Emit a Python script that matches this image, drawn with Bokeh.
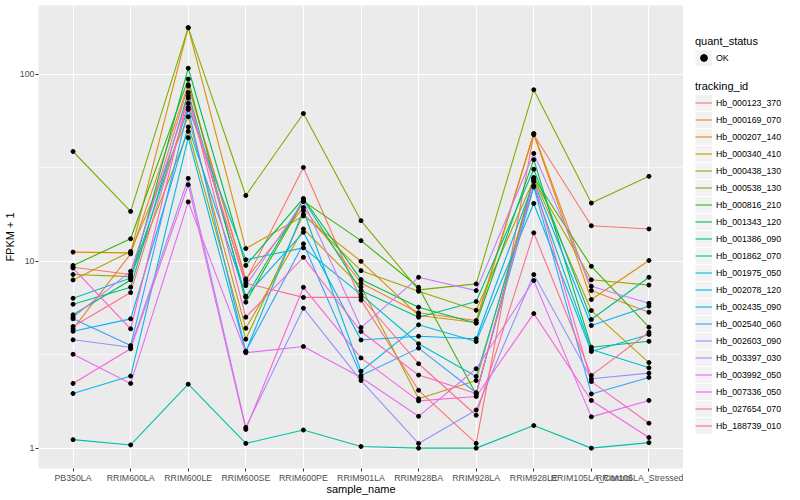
from bokeh.plotting import figure
from bokeh.models import (ColumnDataSource, Range1d, FixedTicker, Legend, LegendItem,
                          BasicTickFormatter, CustomJSTickFormatter)
from bokeh.layouts import row
from bokeh.embed import file_html
from bokeh.resources import INLINE

samples = ["PB350LA", "RRIM600LA", "RRIM600LE", "RRIM600SE", "RRIM600PE", "RRIM901LA",
           "RRIM928BA", "RRIM928LA", "RRIM928LE", "RRIM105LA_Control", "RRIM105LA_Stressed"]

tracking_ids = ["Hb_000123_370", "Hb_000169_070", "Hb_000207_140", "Hb_000340_410",
                "Hb_000438_130", "Hb_000538_130", "Hb_000816_210", "Hb_001343_120",
                "Hb_001386_090", "Hb_001862_070", "Hb_001975_050", "Hb_002078_120",
                "Hb_002435_090", "Hb_002540_060", "Hb_002603_090", "Hb_003397_030",
                "Hb_003992_050", "Hb_007336_050", "Hb_027654_070", "Hb_188739_010"]

# FPKM + 1 per sample (in sample order)
hb_000123_370 = [9.3, 8.5, 86.7, 7.88, 31.8, 6.20, 2.04, 1.06, 47.6, 15.5, 14.9]
hb_000169_070 = [4.35, 10.96, 88.0, 8.05, 19.4, 7.65, 5.30, 4.82, 48.3, 6.97, 5.34]
hb_000207_140 = [11.2, 11.1, 178, 11.7, 17.5, 10.0, 5.13, 4.70, 48.0, 6.24, 10.1]
hb_000340_410 = [7.95, 11.3, 59.4, 4.38, 14.9, 7.3, 1.84, 2.30, 27.8, 5.45, 2.87]
hb_000438_130 = [8.5, 8.28, 49.6, 3.83, 17.9, 8.91, 6.91, 5.47, 27.4, 7.96, 7.46]
hb_000538_130 = [38.7, 18.5, 178, 22.5, 61.8, 16.5, 7.03, 7.57, 82.8, 20.5, 28.5]
hb_000816_210 = [9.5, 13.2, 94.5, 6.04, 21.0, 12.9, 7.26, 1.94, 28.1, 9.40, 4.44]
hb_001343_120 = [5.17, 7.95, 108, 9.5, 21.7, 7.98, 5.68, 4.66, 35.0, 3.47, 3.73]
hb_001386_090 = [5.89, 7.27, 80.1, 6.42, 21.4, 6.97, 5.02, 6.09, 31.1, 4.88, 8.21]
hb_001862_070 = [1.11, 1.04, 2.2, 1.06, 1.25, 1.02, 1.00, 1.00, 1.32, 1.00, 1.07]
hb_001975_050 = [6.34, 8.15, 66.6, 10.2, 11.8, 6.63, 3.62, 2.42, 25.3, 3.37, 2.69]
hb_002078_120 = [1.96, 2.43, 45.9, 3.28, 18.7, 2.58, 4.57, 3.72, 20.4, 3.29, 4.06]
hb_002435_090 = [4.22, 4.92, 52.4, 6.5, 14.3, 3.79, 3.97, 3.85, 26.7, 4.53, 5.76]
hb_002540_060 = [4.92, 3.54, 65.0, 3.30, 12.4, 2.45, 3.43, 1.98, 25.0, 1.95, 2.39]
hb_002603_090 = [3.80, 3.47, 27.8, 1.29, 5.61, 2.30, 1.06, 1.60, 8.49, 2.35, 2.52]
hb_003397_030 = [5.02, 8.84, 74.8, 7.41, 20.9, 4.42, 8.21, 6.97, 37.8, 7.35, 5.96]
hb_003992_050 = [3.18, 2.22, 20.8, 3.24, 3.50, 2.39, 1.48, 2.66, 7.89, 1.47, 1.80]
hb_007336_050 = [2.22, 3.40, 25.7, 1.26, 7.26, 3.04, 1.79, 1.89, 5.25, 1.80, 1.14]
hb_027654_070 = [9.2, 4.35, 76.9, 5.02, 10.5, 4.21, 2.46, 1.96, 27.0, 2.27, 1.36]
hb_188739_010 = [4.48, 6.8, 70.0, 7.63, 6.41, 6.42, 2.83, 1.50, 14.2, 2.45, 4.17]

series = [hb_000123_370, hb_000169_070, hb_000207_140, hb_000340_410, hb_000438_130,
          hb_000538_130, hb_000816_210, hb_001343_120, hb_001386_090, hb_001862_070,
          hb_001975_050, hb_002078_120, hb_002435_090, hb_002540_060, hb_002603_090,
          hb_003397_030, hb_003992_050, hb_007336_050, hb_027654_070, hb_188739_010]

quant_status = ["OK"]
y_ticks = [1, 10, 100]
y_minor = [10 ** 0.5, 10 ** 1.5]

palette = ["#F8766D", "#EA8331", "#D89000", "#C09B00", "#A3A500", "#7CAE00", "#39B600",
           "#00BB4E", "#00BF7D", "#00C1A3", "#00BFC4", "#00BAE0", "#00B0F6", "#35A2FF",
           "#9590FF", "#C77CFF", "#E76BF3", "#FA62DB", "#FF62BC", "#FF6C91"]

FONT = "Liberation Sans"
H = 500
MAIN_W = 683

x_pos = list(range(1, len(samples) + 1))

p = figure(width=MAIN_W, height=H, output_backend="svg", toolbar_location=None,
           y_axis_type="log", x_range=Range1d(0.4, len(samples) + 0.6),
           y_range=Range1d(0.778, 234.0),
           min_border_left=33, min_border_right=0, min_border_top=5, min_border_bottom=32)
p.background_fill_color = "#EBEBEB"
p.border_fill_color = "white"
p.outline_line_color = None

p.xaxis.ticker = FixedTicker(ticks=x_pos)
p.xaxis.formatter = CustomJSTickFormatter(args=dict(labels=samples),
                                          code="return labels[Math.round(tick) - 1];")
p.yaxis.ticker = FixedTicker(ticks=y_ticks, minor_ticks=y_minor)
p.yaxis.formatter = BasicTickFormatter()

for ax in (p.xaxis[0], p.yaxis[0]):
    ax.axis_line_color = None
    ax.major_tick_line_color = "#333333"
    ax.major_tick_out = 3
    ax.major_tick_in = 0
    ax.minor_tick_out = 0
    ax.minor_tick_in = 0
    ax.major_label_text_font = FONT
    ax.major_label_text_font_size = "8.8px"
    ax.major_label_text_color = "#4D4D4D"
    ax.major_label_standoff = 1
    ax.axis_label_text_font = FONT
    ax.axis_label_text_font_size = "11px"
    ax.axis_label_text_font_style = "normal"
    ax.axis_label_text_color = "black"
    ax.axis_label_standoff = 1

p.xaxis.axis_label = "sample_name"
p.yaxis.axis_label = "FPKM + 1"
p.xaxis.axis_label_standoff = -3

p.xgrid.grid_line_color = "white"
p.xgrid.grid_line_width = 1.1
p.ygrid.grid_line_color = "white"
p.ygrid.grid_line_width = 1.1
p.ygrid.minor_grid_line_color = "white"
p.ygrid.minor_grid_line_width = 0.6

for i, vals in enumerate(series):
    p.line(x=x_pos, y=vals, line_color=palette[i], line_width=1.1)

px, py = [], []
for vals in series:
    px.extend(x_pos)
    py.extend(vals)
p.scatter(x=px, y=py, size=4, color="black")

# legend panel (its frame is aligned with the main frame by the row layout)
lf = figure(width=800 - MAIN_W, height=H, output_backend="svg", toolbar_location=None,
            x_range=Range1d(0, 1), y_range=Range1d(0, 1), min_border=0,
            x_axis_location=None, y_axis_location=None)
lf.outline_line_color = None
lf.grid.visible = False
lf.background_fill_color = "white"
lf.border_fill_color = "white"

nan_src = ColumnDataSource(dict(x=[float("nan")], y=[float("nan")]))
band = lf.line("x", "y", source=nan_src, line_color="#F2F2F2", line_width=16, line_cap="butt")
dot = lf.scatter("x", "y", source=nan_src, color="black", size=4)


def style(leg):
    leg.glyph_width = 17
    leg.glyph_height = 17
    leg.label_height = 17
    leg.spacing = 0
    leg.padding = 0
    leg.margin = 0
    leg.title_standoff = 2
    leg.label_standoff = 4
    leg.border_line_color = None
    leg.background_fill_alpha = 0
    leg.label_text_font = FONT
    leg.label_text_font_size = "8.8px"
    leg.label_text_color = "black"
    leg.title_text_font = FONT
    leg.title_text_font_size = "11px"
    leg.title_text_font_style = "normal"
    leg.title_text_color = "black"


leg1 = Legend(items=[LegendItem(label=quant_status[0], renderers=[band, dot])],
              title="quant_status", location=(12, 402))
style(leg1)
lf.add_layout(leg1)

items = []
for i, tid in enumerate(tracking_ids):
    r = lf.line("x", "y", source=nan_src, line_color=palette[i], line_width=1.1)
    items.append(LegendItem(label=tid, renderers=[band, r]))
leg2 = Legend(items=items, title="tracking_id", location=(12, 34))
style(leg2)
lf.add_layout(leg2)

layout = row(p, lf)
open("out.html", "w").write(file_html(layout, INLINE))
